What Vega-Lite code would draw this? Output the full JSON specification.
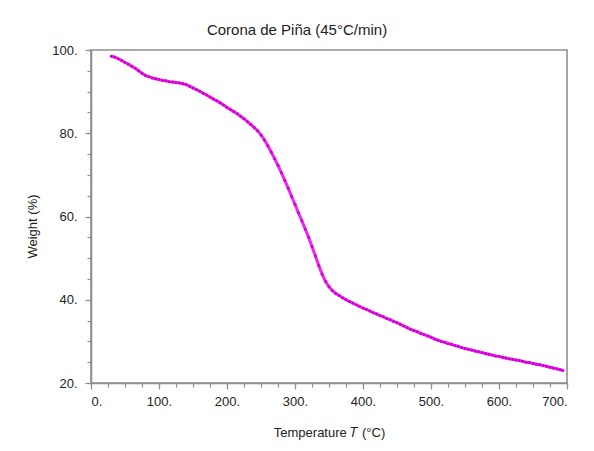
{
  "$schema": "https://vega.github.io/schema/vega-lite/v6.json",
  "width": 476,
  "height": 333,
  "autosize": "none",
  "padding": {"left": 91, "top": 50, "right": 27, "bottom": 68},
  "background": "white",
  "title": {
    "text": "Corona de Piña (45°C/min)",
    "font": "Liberation Sans",
    "fontSize": 15,
    "fontWeight": "normal",
    "color": "#222222",
    "anchor": "middle",
    "dx": -32,
    "offset": 6
  },
  "config": {
    "view": {"stroke": "#8f8f8f", "strokeWidth": 1.6},
    "axis": {
      "domainColor": "#8f8f8f",
      "domainWidth": 1.6,
      "tickColor": "#8f8f8f",
      "tickWidth": 1.2,
      "grid": false,
      "labelFont": "Liberation Sans",
      "labelFontSize": 13,
      "labelColor": "#222222",
      "titleFont": "Liberation Sans",
      "titleFontSize": 13,
      "titleFontWeight": "normal",
      "titleColor": "#222222"
    }
  },
  "datasets": {
    "tga": [
      {"T":30,"W":98.5},{"T":35,"W":98.3},{"T":40,"W":97.9},{"T":45,"W":97.5},{"T":50,"W":97.0},
      {"T":55,"W":96.6},{"T":60,"W":96.1},{"T":65,"W":95.6},{"T":70,"W":95.0},{"T":75,"W":94.4},
      {"T":80,"W":93.9},{"T":85,"W":93.6},{"T":90,"W":93.3},{"T":95,"W":93.1},{"T":100,"W":92.9},
      {"T":105,"W":92.7},{"T":110,"W":92.6},{"T":115,"W":92.4},{"T":120,"W":92.3},{"T":125,"W":92.2},
      {"T":130,"W":92.1},{"T":135,"W":91.9},{"T":140,"W":91.7},{"T":145,"W":91.3},{"T":150,"W":90.9},
      {"T":155,"W":90.5},{"T":160,"W":90.1},{"T":165,"W":89.6},{"T":170,"W":89.2},{"T":175,"W":88.7},
      {"T":180,"W":88.2},{"T":185,"W":87.8},{"T":190,"W":87.3},{"T":195,"W":86.8},{"T":200,"W":86.2},
      {"T":205,"W":85.7},{"T":210,"W":85.2},{"T":215,"W":84.7},{"T":220,"W":84.1},{"T":225,"W":83.5},
      {"T":230,"W":82.8},{"T":235,"W":82.1},{"T":240,"W":81.4},{"T":245,"W":80.6},{"T":250,"W":79.6},
      {"T":255,"W":78.4},{"T":260,"W":77.0},{"T":265,"W":75.5},{"T":270,"W":73.9},{"T":275,"W":72.3},
      {"T":280,"W":70.5},{"T":285,"W":68.7},{"T":290,"W":66.8},{"T":295,"W":64.8},{"T":300,"W":62.9},
      {"T":305,"W":60.9},{"T":310,"W":59.0},{"T":315,"W":57.0},{"T":320,"W":55.0},{"T":325,"W":52.8},
      {"T":330,"W":50.5},{"T":335,"W":48.2},{"T":340,"W":46.1},{"T":345,"W":44.4},{"T":350,"W":43.1},
      {"T":355,"W":42.2},{"T":360,"W":41.5},{"T":365,"W":41.0},{"T":370,"W":40.5},{"T":375,"W":40.0},
      {"T":380,"W":39.6},{"T":385,"W":39.2},{"T":390,"W":38.8},{"T":395,"W":38.4},{"T":400,"W":38.0},
      {"T":405,"W":37.7},{"T":410,"W":37.3},{"T":415,"W":36.9},{"T":420,"W":36.6},{"T":425,"W":36.2},
      {"T":430,"W":35.9},{"T":435,"W":35.5},{"T":440,"W":35.2},{"T":445,"W":34.8},{"T":450,"W":34.5},
      {"T":455,"W":34.1},{"T":460,"W":33.7},{"T":465,"W":33.3},{"T":470,"W":32.9},{"T":475,"W":32.6},
      {"T":480,"W":32.3},{"T":485,"W":31.9},{"T":490,"W":31.6},{"T":495,"W":31.3},{"T":500,"W":31.0},
      {"T":505,"W":30.6},{"T":510,"W":30.3},{"T":515,"W":30.0},{"T":520,"W":29.8},{"T":525,"W":29.5},
      {"T":530,"W":29.3},{"T":535,"W":29.0},{"T":540,"W":28.8},{"T":545,"W":28.5},{"T":550,"W":28.3},
      {"T":555,"W":28.1},{"T":560,"W":27.9},{"T":565,"W":27.7},{"T":570,"W":27.5},{"T":575,"W":27.3},
      {"T":580,"W":27.1},{"T":585,"W":26.9},{"T":590,"W":26.7},{"T":595,"W":26.5},{"T":600,"W":26.4},
      {"T":605,"W":26.2},{"T":610,"W":26.0},{"T":615,"W":25.8},{"T":620,"W":25.7},{"T":625,"W":25.5},
      {"T":630,"W":25.4},{"T":635,"W":25.2},{"T":640,"W":25.0},{"T":645,"W":24.9},{"T":650,"W":24.7},
      {"T":655,"W":24.5},{"T":660,"W":24.4},{"T":665,"W":24.2},{"T":670,"W":24.0},{"T":675,"W":23.8},
      {"T":680,"W":23.6},{"T":685,"W":23.4},{"T":690,"W":23.2},{"T":694,"W":23.0}
    ]
  },
  "data": {"name": "tga"},
  "layer": [
    {
      "mark": {"type": "point", "opacity": 0},
      "encoding": {
        "x": {
          "field": "T", "type": "quantitative",
          "scale": {"domain": [0, 700], "nice": false, "zero": false},
          "axis": {
            "orient": "bottom",
            "values": [0,25,50,75,100,125,150,175,200,225,250,275,300,325,350,375,400,425,450,475,500,525,550,575,600,625,650,675,700],
            "labels": false, "domain": false, "tickSize": 4, "title": null
          }
        },
        "y": {
          "field": "W", "type": "quantitative",
          "scale": {"domain": [20, 100], "nice": false, "zero": false},
          "axis": {
            "orient": "left",
            "values": [20,25,30,35,40,45,50,55,60,65,70,75,80,85,90,95,100],
            "labels": false, "domain": false, "tickSize": 4, "title": null
          }
        }
      }
    },
    {
      "mark": {"type": "line", "color": "#f024f0", "strokeWidth": 3},
      "encoding": {
        "x": {
          "field": "T", "type": "quantitative",
          "axis": {
            "orient": "bottom",
            "values": [0,100,200,300,400,500,600,700],
            "labelExpr": "datum.value + '.'",
            "tickSize": 6,
            "labelPadding": 6,
            "title": "Temperature  𝑇  (°C)",
            "titleY": 49,
            "titleBaseline": "middle"
          }
        },
        "y": {
          "field": "W", "type": "quantitative",
          "axis": {
            "orient": "left",
            "values": [20,40,60,80,100],
            "labelExpr": "datum.value + '.'",
            "tickSize": 6,
            "labelPadding": 8,
            "title": "Weight (%)",
            "titleX": -59,
            "titleY": 176,
            "titleBaseline": "middle"
          }
        }
      }
    },
    {
      "mark": {"type": "point", "filled": true, "color": "#d000d0", "size": 9, "opacity": 1},
      "encoding": {
        "x": {"field": "T", "type": "quantitative", "axis": null},
        "y": {"field": "W", "type": "quantitative", "axis": null}
      }
    }
  ],
  "resolve": {"axis": {"x": "independent", "y": "independent"}}
}
